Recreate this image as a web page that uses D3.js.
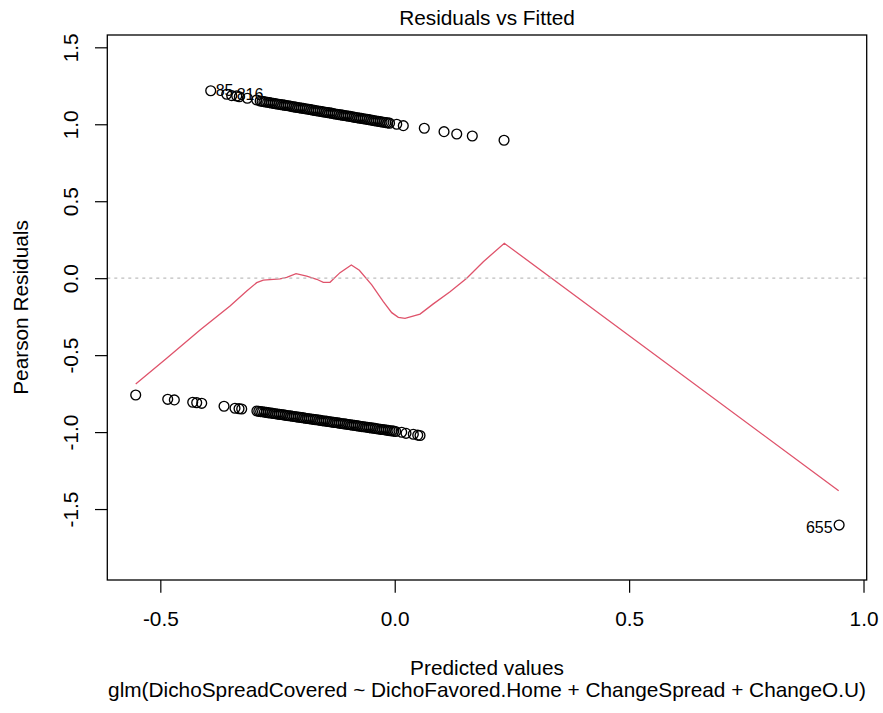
<!DOCTYPE html>
<html>
<head>
<meta charset="utf-8">
<script src="https://cdn.jsdelivr.net/npm/d3@7"></script>
<style>
	body { margin: 0; background: #ffffff; }
	text { font-family: 'Liberation Sans', Arial, sans-serif; fill: #000000; }
</style>
</head>
<body>
<svg id="viz"></svg>
<script>
// fitted values (link scale) and pearson residuals
var fittedHigh = [ -0.3925, -0.3584, -0.3477, -0.337, -0.3315, -0.3144, -0.2944,
	-0.287, -0.283, -0.279, -0.275, -0.271, -0.267, -0.263, -0.259, -0.255, -0.251,
	-0.247, -0.243, -0.239, -0.235, -0.231, -0.227, -0.223, -0.219, -0.215, -0.211,
	-0.207, -0.203, -0.199, -0.195, -0.191, -0.187, -0.183, -0.179, -0.175, -0.171,
	-0.167, -0.163, -0.159, -0.155, -0.151, -0.147, -0.143, -0.139, -0.135, -0.131,
	-0.127, -0.123, -0.119, -0.115, -0.111, -0.107, -0.103, -0.099, -0.095, -0.091,
	-0.087, -0.083, -0.079, -0.075, -0.071, -0.067, -0.063, -0.059, -0.055, -0.051,
	-0.047, -0.043, -0.039, -0.035, -0.031, -0.027, -0.023, -0.019, -0.015, -0.011,
	0.0043, 0.0183, 0.0631, 0.1052, 0.1323, 0.1655, 0.2332 ];
var residHigh = [ 1.218, 1.195, 1.186, 1.184, 1.179, 1.169, 1.158,
	1.151, 1.149, 1.147, 1.145, 1.143, 1.141, 1.138, 1.136, 1.134, 1.132,
	1.130, 1.128, 1.126, 1.124, 1.122, 1.120, 1.118, 1.115, 1.113, 1.111,
	1.109, 1.107, 1.105, 1.103, 1.101, 1.099, 1.097, 1.095, 1.092, 1.090,
	1.088, 1.086, 1.084, 1.082, 1.080, 1.078, 1.076, 1.074, 1.072, 1.069,
	1.067, 1.065, 1.063, 1.061, 1.059, 1.057, 1.055, 1.053, 1.051, 1.049,
	1.046, 1.044, 1.042, 1.040, 1.038, 1.036, 1.034, 1.032, 1.030, 1.028,
	1.025, 1.023, 1.021, 1.019, 1.017, 1.015, 1.013, 1.011, 1.009, 1.007,
	1.000, 0.991, 0.974, 0.952, 0.937, 0.924, 0.896 ];

var fittedLow = [ -0.5525, -0.4842, -0.4701, -0.4309, -0.4224, -0.4117, -0.3641, -0.3407, -0.3321, -0.3264,
	-0.294, -0.290, -0.286, -0.282, -0.278, -0.274, -0.270, -0.266, -0.262, -0.258,
	-0.254, -0.250, -0.246, -0.242, -0.238, -0.234, -0.230, -0.226, -0.222, -0.218,
	-0.214, -0.210, -0.206, -0.202, -0.198, -0.194, -0.190, -0.186, -0.182, -0.178,
	-0.174, -0.170, -0.166, -0.162, -0.158, -0.154, -0.150, -0.146, -0.142, -0.138,
	-0.134, -0.130, -0.126, -0.122, -0.118, -0.114, -0.110, -0.106, -0.102, -0.098,
	-0.094, -0.090, -0.086, -0.082, -0.078, -0.074, -0.070, -0.066, -0.062, -0.058,
	-0.054, -0.050, -0.046, -0.042, -0.038, -0.034, -0.030, -0.026, -0.022, -0.018,
	-0.014, -0.010, -0.006, -0.002, 0.002,
	0.0149, 0.0241, 0.0397, 0.0491, 0.054,
	0.948 ];
var residLow = [ -0.759, -0.787, -0.791, -0.806, -0.809, -0.813, -0.832, -0.845, -0.848, -0.850,
	-0.863, -0.865, -0.867, -0.868, -0.870, -0.872, -0.874, -0.876, -0.877, -0.879,
	-0.881, -0.883, -0.885, -0.886, -0.888, -0.890, -0.892, -0.894, -0.895, -0.897,
	-0.899, -0.901, -0.903, -0.904, -0.906, -0.908, -0.910, -0.912, -0.913, -0.915,
	-0.917, -0.919, -0.920, -0.922, -0.924, -0.926, -0.928, -0.929, -0.931, -0.933,
	-0.935, -0.937, -0.938, -0.940, -0.942, -0.944, -0.946, -0.947, -0.949, -0.951,
	-0.953, -0.955, -0.956, -0.958, -0.960, -0.962, -0.964, -0.965, -0.967, -0.969,
	-0.971, -0.973, -0.974, -0.976, -0.978, -0.980, -0.982, -0.983, -0.985, -0.987,
	-0.989, -0.991, -0.992, -0.994, -0.996,
	-1.001, -1.008, -1.014, -1.020, -1.022,
	-1.604 ];

// lowess smoother
var smoothX = [ -0.5525, -0.4864, -0.4153, -0.3513, -0.3157, -0.2944, -0.2803, -0.2447, -0.2304,
	-0.2105, -0.1877, -0.1664, -0.1523, -0.138, -0.1167, -0.0926, -0.0755, -0.049, -0.0243,
	-0.0064, 0.0077, 0.022, 0.054, 0.0823, 0.118, 0.1536, 0.189, 0.2338, 0.947 ];
var smoothY = [ -0.687, -0.520, -0.337, -0.181, -0.083, -0.029, -0.012, -0.005, 0.006,
	0.029, 0.014, -0.007, -0.027, -0.027, 0.036, 0.086, 0.051, -0.044, -0.153,
	-0.224, -0.254, -0.261, -0.233, -0.167, -0.088, -0.001, 0.107, 0.227, -1.381 ];

// labelled observations
var labelIds = [ '85', '816', '655' ];
var labelX = [ -0.3925, -0.3477, 0.948 ];
var labelY = [ 1.218, 1.186, -1.604 ];
var labelSide = [ 'right', 'right', 'left' ];

var xTicks = [ -0.5, 0.0, 0.5, 1.0 ];
var yTicks = [ -1.5, -1.0, -0.5, 0.0, 0.5, 1.0, 1.5 ];

var titleText = 'Residuals vs Fitted';
var xLabel = 'Predicted values';
var yLabel = 'Pearson Residuals';
var subCaption = 'glm(DichoSpreadCovered ~ DichoFavored.Home + ChangeSpread + ChangeO.U)';

var width = 883, height = 713;
var box = { left: 107.3, right: 866.7, top: 35, bottom: 580 };
var red = '#DF536B';
var fs = 20.8;
var fmt = function ( d ) { return d.toFixed( 1 ); };

var svg = d3.select( '#viz' )
	.attr( 'width', width )
	.attr( 'height', height );

svg.append( 'rect' )
	.attr( 'width', width )
	.attr( 'height', height )
	.attr( 'fill', '#ffffff' );

var xScale = d3.scaleLinear()
	.domain( [ -0.6131, 1.0068 ] )
	.range( [ box.left, box.right ] );
var yScale = d3.scaleLinear()
	.domain( [ -1.961, 1.580 ] )
	.range( [ box.bottom, box.top ] );

var plot = svg.append( 'g' );

// points
var pts = fittedHigh.map( function ( d, i ) {
	return { x: d, y: residHigh[i] };
} ).concat( fittedLow.map( function ( d, i ) {
	return { x: d, y: residLow[i] };
} ) );

plot.selectAll( 'circle' )
	.data( pts )
	.enter()
	.append( 'circle' )
	.attr( 'cx', function ( d ) { return xScale( d.x ); } )
	.attr( 'cy', function ( d ) { return yScale( d.y ); } )
	.attr( 'r', 4.9 )
	.attr( 'fill', 'none' )
	.attr( 'stroke', '#000000' )
	.attr( 'stroke-width', 1.35 );

// smoother
var line = d3.line()
	.x( function ( d, i ) { return xScale( d ); } )
	.y( function ( d, i ) { return yScale( smoothY[i] ); } );

plot.append( 'path' )
	.datum( smoothX )
	.attr( 'd', line )
	.attr( 'fill', 'none' )
	.attr( 'stroke', red )
	.attr( 'stroke-width', 1.3 );

// zero reference
plot.append( 'line' )
	.attr( 'x1', box.left )
	.attr( 'x2', box.right )
	.attr( 'y1', yScale( 0 ) )
	.attr( 'y2', yScale( 0 ) )
	.attr( 'stroke', '#bebebe' )
	.attr( 'stroke-width', 1.2 )
	.attr( 'stroke-dasharray', '3,4' );

// point labels
plot.selectAll( 'text.id' )
	.data( labelIds )
	.enter()
	.append( 'text' )
	.classed( 'id', true )
	.attr( 'x', function ( d, i ) {
		return xScale( labelX[i] ) + ( labelSide[i] === 'right' ? 5 : -6.5 );
	} )
	.attr( 'y', function ( d, i ) { return yScale( labelY[i] ); } )
	.attr( 'dy', function ( d, i ) { return labelSide[i] === 'right' ? '0.3em' : '0.5em'; } )
	.attr( 'text-anchor', function ( d, i ) {
		return labelSide[i] === 'right' ? 'start' : 'end';
	} )
	.style( 'font-size', '16px' )
	.text( function ( d ) { return d; } );

// axes
var xAxis = svg.append( 'g' )
	.attr( 'transform', 'translate(0,' + box.bottom + ')' )
	.call( d3.axisBottom( xScale ).tickValues( xTicks ).tickSize( 12.7 ).tickSizeOuter( 0 ).tickFormat( fmt ) );
xAxis.select( '.domain' ).remove();
xAxis.selectAll( 'line' ).attr( 'stroke', '#000' ).attr( 'stroke-width', 1.2 );
xAxis.selectAll( 'text' )
	.attr( 'y', 46 )
	.attr( 'dy', null )
	.attr( 'fill', '#000' )
	.style( 'font-family', "'Liberation Sans', Arial, sans-serif" )
	.style( 'font-size', fs + 'px' );

var yAxis = svg.append( 'g' )
	.attr( 'transform', 'translate(' + box.left + ',0)' )
	.call( d3.axisLeft( yScale ).tickValues( yTicks ).tickSize( 12.3 ).tickSizeOuter( 0 ).tickFormat( fmt ) );
yAxis.select( '.domain' ).remove();
yAxis.selectAll( 'line' ).attr( 'stroke', '#000' ).attr( 'stroke-width', 1.2 );
yAxis.selectAll( 'text' )
	.attr( 'x', null )
	.attr( 'dy', null )
	.attr( 'transform', 'translate(-29.3,0) rotate(-90)' )
	.attr( 'text-anchor', 'middle' )
	.attr( 'fill', '#000' )
	.style( 'font-family', "'Liberation Sans', Arial, sans-serif" )
	.style( 'font-size', fs + 'px' );

// frame
svg.append( 'rect' )
	.attr( 'x', box.left )
	.attr( 'y', box.top )
	.attr( 'width', box.right - box.left )
	.attr( 'height', box.bottom - box.top )
	.attr( 'fill', 'none' )
	.attr( 'stroke', '#000' )
	.attr( 'stroke-width', 1.3 );

// titles
var midX = ( box.left + box.right ) / 2;
svg.append( 'text' )
	.attr( 'x', midX )
	.attr( 'y', 25 )
	.attr( 'text-anchor', 'middle' )
	.style( 'font-size', fs + 'px' )
	.text( titleText );
svg.append( 'text' )
	.attr( 'x', midX )
	.attr( 'y', 674.5 )
	.attr( 'text-anchor', 'middle' )
	.style( 'font-size', fs + 'px' )
	.text( xLabel );
svg.append( 'text' )
	.attr( 'x', midX )
	.attr( 'y', 696.5 )
	.attr( 'text-anchor', 'middle' )
	.style( 'font-size', fs + 'px' )
	.text( subCaption );
svg.append( 'text' )
	.attr( 'transform', 'translate(28.3,' + ( ( box.top + box.bottom ) / 2 ) + ') rotate(-90)' )
	.attr( 'text-anchor', 'middle' )
	.style( 'font-size', fs + 'px' )
	.text( yLabel );
</script>
</body>
</html>
